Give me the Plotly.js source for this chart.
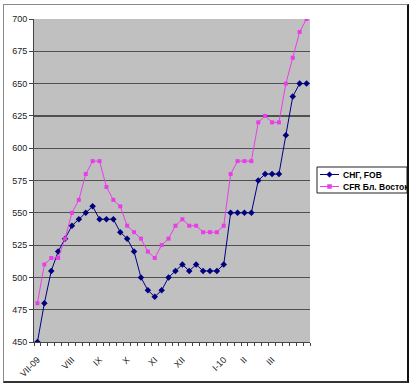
<!DOCTYPE html>
<html>
<head>
<meta charset="utf-8">
<script src="https://cdn.plot.ly/plotly-3.0.1.min.js"></script>
<style>
  html, body { margin: 0; padding: 0; background: #fff; }
  #wrap { position: relative; width: 417px; height: 385px; }
  #chart { position: absolute; left: 0; top: 0; width: 417px; height: 385px; }
  #frame { position: absolute; left: 3px; top: 4px; width: 406px; height: 379px; box-sizing: border-box;
           border-top: 1px solid #8a8a8a; border-left: 1px solid #8a8a8a;
           border-right: 2px solid #111; border-bottom: 2px solid #333; pointer-events: none; }
</style>
</head>
<body>
<div id="wrap"><div id="chart"></div><div id="frame"></div></div>
<script>
// Weekly prices, VII-2009 .. III-2010
const weekIndex = Array.from({length: 40}, (_, i) => i);
const cisFob = [450, 480, 505, 520, 530, 540, 545, 550, 555, 545,
                545, 545, 535, 530, 520, 500, 490, 485, 490, 500,
                505, 510, 505, 510, 505, 505, 505, 510, 550, 550,
                550, 550, 575, 580, 580, 580, 610, 640, 650, 650];
const cfrMiddleEast = [480, 510, 515, 515, 530, 550, 560, 580, 590, 590,
                       570, 560, 555, 540, 535, 530, 520, 515, 525, 530,
                       540, 545, 540, 540, 535, 535, 535, 540, 580, 590,
                       590, 590, 620, 625, 620, 620, 650, 670, 690, 700];
const monthTickIndex = [0, 5, 9, 13, 17, 21, 27, 30, 34];
const monthTickLabels = ['VII-09', 'VIII', 'IX', 'X', 'XI', 'XII', 'I-10', 'II', 'III'];
const seriesNames = ['СНГ, FOB', 'CFR Бл. Восток'];

const blue = '#000080', pink = '#e83ee8';
const M = {l: 34, r: 107, t: 19, b: 43};
const W = 417 - M.l - M.r, H = 385 - M.t - M.b;
const px = x => (x - M.l) / W;
const py = y => 1 - (y - M.t) / H;

const traces = [
  {x: weekIndex, y: cisFob, name: seriesNames[0], type: 'scatter', mode: 'lines+markers',
   line: {color: blue, width: 1}, marker: {symbol: 'diamond', size: 5, color: blue}},
  {x: weekIndex, y: cfrMiddleEast, name: seriesNames[1], type: 'scatter', mode: 'lines+markers',
   line: {color: pink, width: 1}, marker: {symbol: 'square', size: 4, color: pink}}
];

// manual legend (clipped like the original)
const lx0 = 317, lx1 = 407, ly0 = 167, ly1 = 193;
const r1 = 174.5, r2 = 186.5, sx0 = 320, sx1 = 339, sc = 329.5;
const shapes = [
  {type: 'rect', xref: 'paper', yref: 'paper', x0: px(lx0), x1: px(lx1), y0: py(ly0), y1: py(ly1),
   fillcolor: '#fff', line: {color: '#222', width: 1}},
  {type: 'line', xref: 'paper', yref: 'paper', x0: px(sx0), x1: px(sx1), y0: py(r1), y1: py(r1),
   line: {color: blue, width: 1}},
  {type: 'path', xref: 'paper', yref: 'paper',
   path: `M ${px(sc)} ${py(r1 - 2.8)} L ${px(sc + 2.8)} ${py(r1)} L ${px(sc)} ${py(r1 + 2.8)} L ${px(sc - 2.8)} ${py(r1)} Z`,
   fillcolor: blue, line: {color: blue, width: 0.5}},
  {type: 'line', xref: 'paper', yref: 'paper', x0: px(sx0), x1: px(sx1), y0: py(r2), y1: py(r2),
   line: {color: pink, width: 1}},
  {type: 'rect', xref: 'paper', yref: 'paper', x0: px(sc - 2), x1: px(sc + 2), y0: py(r2 - 2), y1: py(r2 + 2),
   fillcolor: pink, line: {color: pink, width: 0.5}}
];
const legFont = {family: 'Liberation Sans, Arial, sans-serif', size: 8.5, color: '#000', weight: 'bold'};
const annotations = [
  {xref: 'paper', yref: 'paper', x: px(340.5), y: py(r1), xanchor: 'left', yanchor: 'middle',
   text: '<b>' + seriesNames[0] + '</b>', showarrow: false, font: legFont, align: 'left'},
  {xref: 'paper', yref: 'paper', x: px(340.5), y: py(r2), xanchor: 'left', yanchor: 'middle',
   text: '<b>' + seriesNames[1] + '</b>', showarrow: false, font: legFont, align: 'left', width: 66}
];

const tickFont = {family: 'Liberation Sans, Arial, sans-serif', size: 9, color: '#222'};
const layout = {
  width: 417, height: 385, margin: M,
  paper_bgcolor: 'rgba(0,0,0,0)', plot_bgcolor: '#c0c0c0',
  showlegend: false,
  xaxis: {type: 'linear', range: [-0.5, 39.5], tickmode: 'array', tickvals: monthTickIndex,
          ticktext: monthTickLabels, tickangle: -45, ticks: 'outside', ticklen: 8,
          tickcolor: 'rgba(0,0,0,0)', showgrid: false, zeroline: false, showline: true,
          linecolor: '#444', linewidth: 1, tickfont: tickFont,
          minor: {tickmode: 'linear', tick0: -0.5, dtick: 1, ticks: 'outside', ticklen: 3,
                  tickcolor: '#444', tickwidth: 1, showgrid: false}},
  yaxis: {range: [450, 700], tickmode: 'linear', tick0: 450, dtick: 25, ticks: 'outside', ticklen: 4,
          tickcolor: '#444', showgrid: true, gridcolor: '#505050', gridwidth: 1.2, zeroline: false,
          showline: true, linecolor: '#444', linewidth: 1, tickfont: tickFont},
  shapes: shapes, annotations: annotations
};
Plotly.newPlot('chart', traces, layout, {displayModeBar: false, staticPlot: true});
</script>
</body>
</html>
